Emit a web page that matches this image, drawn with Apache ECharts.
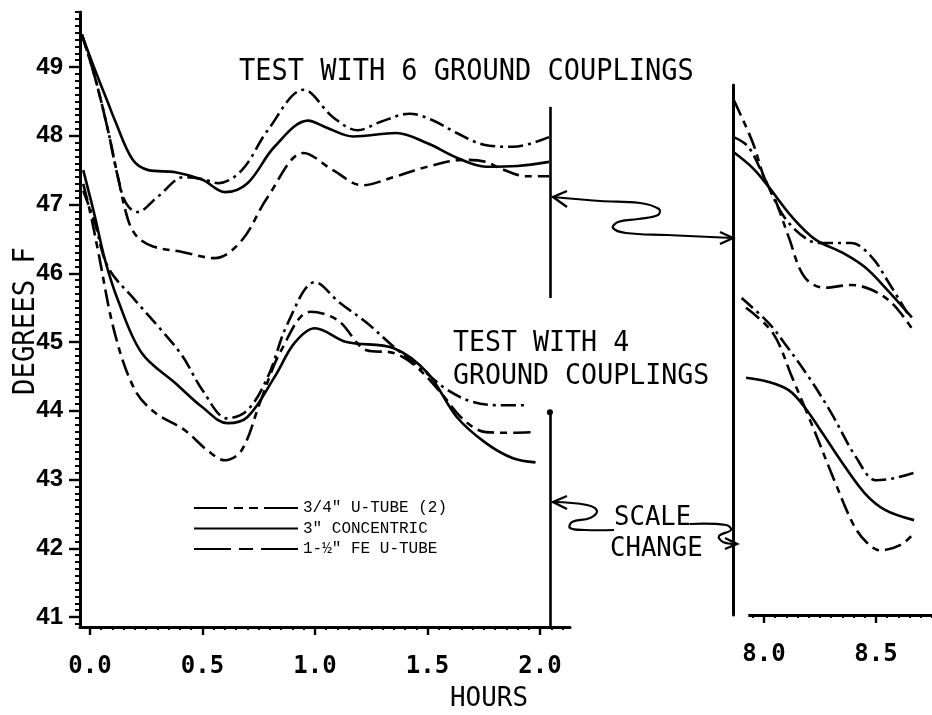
<!DOCTYPE html>
<html>
<head>
<meta charset="utf-8">
<script src="https://cdn.jsdelivr.net/npm/echarts@6/dist/echarts.min.js"></script>
<style>
  html, body { margin: 0; padding: 0; background: #fff; }
  #chart { width: 932px; height: 715px; }
</style>
</head>
<body>
<div id="chart"></div>
<script>
// ---------- tick labels ----------
const degreeTicks = [41, 42, 43, 44, 45, 46, 47, 48, 49];
const hourTicksLeft = [0, 0.5, 1, 1.5, 2];
const hourTicksRight = [8, 8.5];

// ---------- series names ----------
const NAME_UTUBE = '3/4" U-TUBE (2)';
const NAME_CONC = '3" CONCENTRIC';
const NAME_FE = '1-½" FE U-TUBE';

// ---------- test with 6 ground couplings, 0-2 h ----------
const six_utube_early = [[-0.036,49.47],[0.022,48.85],[0.08,48.08],[0.124,47.40],[0.16,47.02],[0.21,46.89],[0.30,47.11],[0.42,47.40],[0.50,47.37],[0.57,47.31],[0.675,47.50],[0.79,48.08],[0.95,48.67],[1.08,48.27],[1.19,48.08],[1.29,48.20],[1.42,48.32],[1.52,48.23],[1.63,48.04],[1.75,47.87],[1.88,47.84],[2.04,47.98]];
const six_conc_early = [[-0.036,49.47],[0.022,48.96],[0.08,48.48],[0.11,48.23],[0.19,47.65],[0.26,47.50],[0.38,47.47],[0.50,47.36],[0.60,47.18],[0.70,47.31],[0.82,47.84],[0.97,48.22],[1.05,48.12],[1.17,47.99],[1.36,48.04],[1.50,47.89],[1.63,47.68],[1.76,47.55],[1.90,47.56],[2.04,47.62]];
const six_fe_early = [[-0.036,49.47],[0.022,48.85],[0.08,48.08],[0.124,47.40],[0.17,46.77],[0.21,46.53],[0.28,46.39],[0.41,46.31],[0.555,46.22],[0.675,46.48],[0.79,47.11],[0.95,47.75],[1.08,47.50],[1.21,47.28],[1.35,47.40],[1.50,47.55],[1.66,47.65],[1.76,47.62],[1.82,47.53],[1.94,47.41],[2.04,47.41]];

// ---------- test with 4 ground couplings, 0-2 h ----------
const four_utube_early = [[-0.03,47.2],[0.02,46.75],[0.08,46.09],[0.2,45.61],[0.31,45.2],[0.41,44.8],[0.50,44.30],[0.61,43.89],[0.70,44.01],[0.79,44.49],[0.88,45.28],[1.0,45.87],[1.11,45.57],[1.23,45.28],[1.35,44.93],[1.48,44.59],[1.59,44.30],[1.70,44.13],[1.82,44.08],[1.94,44.08]];
const four_conc_early = [[-0.03,47.5],[0.02,46.85],[0.067,46.19],[0.124,45.61],[0.23,44.84],[0.38,44.40],[0.50,44.05],[0.61,43.82],[0.70,43.91],[0.82,44.49],[0.91,44.99],[1.0,45.20],[1.14,45.00],[1.35,44.91],[1.50,44.55],[1.63,43.91],[1.76,43.53],[1.88,43.31],[1.98,43.25]];
const four_fe_early = [[-0.03,47.3],[0.0,46.9],[0.035,46.34],[0.11,45.13],[0.2,44.30],[0.29,43.97],[0.42,43.72],[0.52,43.43],[0.60,43.28],[0.675,43.43],[0.76,44.16],[0.85,44.88],[0.98,45.44],[1.10,45.32],[1.23,44.88],[1.35,44.84],[1.45,44.64],[1.56,44.26],[1.66,43.87],[1.76,43.69],[1.88,43.68],[1.98,43.69]];

// ---------- after scale change, 8-8.7 h ----------
const six_utube_late = [[7.865,48.6],[7.93,48.46],[8.0,48.02],[8.09,47.44],[8.20,47.10],[8.27,47.06],[8.39,47.06],[8.48,46.86],[8.55,46.52],[8.64,46.04]];
const six_conc_late = [[7.865,48.38],[7.95,48.15],[8.02,47.88],[8.125,47.44],[8.23,47.11],[8.35,46.92],[8.45,46.71],[8.55,46.38],[8.66,45.98]];
const six_fe_late = [[7.865,49.14],[7.95,48.52],[8.0,48.02],[8.05,47.69],[8.11,47.15],[8.18,46.57],[8.27,46.41],[8.39,46.45],[8.48,46.38],[8.57,46.19],[8.66,45.82]];
const four_utube_late = [[7.90,46.26],[8.02,45.90],[8.09,45.61],[8.20,45.11],[8.30,44.59],[8.41,43.95],[8.50,43.61],[8.58,43.64],[8.67,43.72]];
const four_conc_late = [[7.92,45.10],[8.02,45.04],[8.11,44.92],[8.18,44.68],[8.26,44.30],[8.35,43.86],[8.45,43.42],[8.54,43.18],[8.67,43.03]];
const four_fe_late = [[7.92,46.12],[8.04,45.75],[8.125,45.11],[8.22,44.37],[8.31,43.64],[8.40,42.96],[8.46,42.70],[8.52,42.59],[8.61,42.67],[8.67,42.84]];

// ---------- styling ----------
const INK = '#000';
const DASH_UTUBE = [15, 5, 3, 5];
const DASH_FE = [17, 6, 7, 6];

function minorList(start, end, step, skip) {
  const out = [];
  for (let v = start; v <= end + 1e-9; v += step) {
    const r = Math.round(v * 1000) / 1000;
    if (!skip.some(s => Math.abs(s - r) < 1e-6)) out.push(r);
  }
  return out;
}

function mkLine(name, data, dash, xi, yi) {
  return {
    type: 'line', name: name, data: data,
    xAxisIndex: xi, yAxisIndex: yi,
    smooth: 0.35, symbol: 'none', showSymbol: false, clip: false, silent: true,
    itemStyle: { color: INK },
    lineStyle: { color: INK, width: 2.6, type: dash }
  };
}

const chart = echarts.init(document.getElementById('chart'), null, { renderer: 'canvas' });

const series = [
  mkLine(NAME_UTUBE, six_utube_early, DASH_UTUBE, 0, 0),
  mkLine(NAME_CONC, six_conc_early, 'solid', 0, 0),
  mkLine(NAME_FE, six_fe_early, DASH_FE, 0, 0),
  mkLine(NAME_UTUBE, four_utube_early, DASH_UTUBE, 0, 0),
  mkLine(NAME_CONC, four_conc_early, 'solid', 0, 0),
  mkLine(NAME_FE, four_fe_early, DASH_FE, 0, 0),
  mkLine(NAME_UTUBE, six_utube_late, DASH_UTUBE, 2, 2),
  mkLine(NAME_CONC, six_conc_late, 'solid', 2, 2),
  mkLine(NAME_FE, six_fe_late, DASH_FE, 2, 2),
  mkLine(NAME_UTUBE, four_utube_late, DASH_UTUBE, 2, 2),
  mkLine(NAME_CONC, four_conc_late, 'solid', 2, 2),
  mkLine(NAME_FE, four_fe_late, DASH_FE, 2, 2)
];

// broken vertical line marking the end of the first time window
series[1].markLine = {
  silent: true, symbol: ['none', 'none'], animation: false,
  label: { show: false },
  lineStyle: { color: INK, width: 2.6, type: 'solid' },
  data: [
    [{ coord: [2.044, 48.42] }, { coord: [2.044, 45.64] }],
    [{ coord: [2.044, 43.98], symbol: 'circle', symbolSize: 6 }, { coord: [2.044, 40.855] }]
  ]
};
// time axis line of the late window starts a little right of its temperature axis
series[7].markLine = {
  silent: true, symbol: ['none', 'none'], animation: false,
  label: { show: false },
  lineStyle: { color: INK, width: 3, type: 'solid' },
  data: [
    [{ coord: [7.93, 41.65] }, { coord: [8.75, 41.65] }]
  ]
};

const tickStyle = { color: INK, width: 2.4 };
const R_MIN = 7.8616, R_MAX = 8.75;

const option = {
  backgroundColor: '#fff',
  animation: false,
  grid: [
    { left: 80, top: 12, width: 490, height: 615 },
    { left: 733, top: 85, width: 199, height: 530 }
  ],
  xAxis: [
    { gridIndex: 0, type: 'value', min: -0.0444, max: 2.1333, position: 'bottom',
      axisLine: { show: true, onZero: false, lineStyle: { color: INK, width: 3 } },
      axisTick: { show: true, customValues: hourTicksLeft, length: 8, lineStyle: tickStyle },
      axisLabel: { show: true, customValues: hourTicksLeft, margin: 28, formatter: v => v.toFixed(1),
        fontFamily: 'DejaVu Sans Mono', fontWeight: 'bold', fontSize: 24, color: INK },
      splitLine: { show: false } },
    { gridIndex: 0, type: 'value', min: -0.0444, max: 2.1333, position: 'bottom',
      axisLine: { show: false, onZero: false },
      axisTick: { show: true, customValues: minorList(0.05, 2.1, 0.05, hourTicksLeft), length: 3, lineStyle: { color: INK, width: 2 } },
      axisLabel: { show: false }, splitLine: { show: false } },
    { gridIndex: 1, type: 'value', min: R_MIN, max: R_MAX, position: 'bottom',
      axisLine: { show: false, onZero: false },
      axisTick: { show: true, customValues: hourTicksRight, length: 8, lineStyle: tickStyle },
      axisLabel: { show: true, customValues: hourTicksRight, margin: 28, formatter: v => v.toFixed(1),
        fontFamily: 'DejaVu Sans Mono', fontWeight: 'bold', fontSize: 24, color: INK },
      splitLine: { show: false } },
    { gridIndex: 1, type: 'value', min: R_MIN, max: R_MAX, position: 'bottom',
      axisLine: { show: false, onZero: false },
      axisTick: { show: true, customValues: minorList(7.95, 8.75, 0.05, hourTicksRight), length: 3, lineStyle: { color: INK, width: 2 } },
      axisLabel: { show: false }, splitLine: { show: false } }
  ],
  yAxis: [
    { gridIndex: 0, type: 'value', min: 40.855, max: 49.8, position: 'left',
      axisLine: { show: true, onZero: false, lineStyle: { color: INK, width: 3 } },
      axisTick: { show: true, customValues: degreeTicks, length: 11, lineStyle: tickStyle },
      axisLabel: { show: true, customValues: degreeTicks, margin: 17,
        fontFamily: 'Liberation Sans', fontWeight: 'bold', fontSize: 24, color: INK },
      splitLine: { show: false } },
    { gridIndex: 0, type: 'value', min: 40.855, max: 49.8, position: 'left',
      axisLine: { show: false, onZero: false },
      axisTick: { show: true, customValues: minorList(40.9, 49.8, 0.1, degreeTicks), length: 5, lineStyle: { color: INK, width: 2 } },
      axisLabel: { show: false }, splitLine: { show: false } },
    { gridIndex: 1, type: 'value', min: 41.65, max: 49.359, position: 'left',
      axisLine: { show: true, onZero: false, lineStyle: { color: INK, width: 3 } },
      axisTick: { show: false }, axisLabel: { show: false }, splitLine: { show: false } }
  ],
  legend: {
    orient: 'vertical', left: 193, top: 500, padding: 0,
    itemWidth: 104, itemHeight: 14, itemGap: 4.5,
    selectedMode: false,
    itemStyle: { opacity: 0 },
    textStyle: { fontFamily: 'Liberation Mono', fontSize: 16, color: INK },
    data: [
      { name: NAME_UTUBE, lineStyle: { type: [33, 7, 9, 6, 9, 6, 40] } },
      { name: NAME_CONC },
      { name: NAME_FE, lineStyle: { type: [37, 8, 14, 8, 40] } }
    ]
  },
  graphic: [
    { type: 'text', x: 239, y: 72, scaleX: 0.87, silent: true,
      style: { text: 'TEST WITH 6 GROUND COUPLINGS', fill: INK, font: '31px "DejaVu Sans Mono"',
        align: 'left', verticalAlign: 'middle', textAlign: 'left', textVerticalAlign: 'middle' } },
    { type: 'text', x: 453, y: 344, scaleX: 0.95, silent: true,
      style: { text: 'TEST WITH 4', fill: INK, font: '28px "DejaVu Sans Mono"',
        align: 'left', verticalAlign: 'middle', textAlign: 'left', textVerticalAlign: 'middle' } },
    { type: 'text', x: 453, y: 377, scaleX: 0.95, silent: true,
      style: { text: 'GROUND COUPLINGS', fill: INK, font: '28px "DejaVu Sans Mono"',
        align: 'left', verticalAlign: 'middle', textAlign: 'left', textVerticalAlign: 'middle' } },
    { type: 'text', x: 614, y: 518, scaleX: 0.95, silent: true,
      style: { text: 'SCALE', fill: INK, font: '27px "DejaVu Sans Mono"',
        align: 'left', verticalAlign: 'middle', textAlign: 'left', textVerticalAlign: 'middle' } },
    { type: 'text', x: 610, y: 549, scaleX: 0.95, silent: true,
      style: { text: 'CHANGE', fill: INK, font: '27px "DejaVu Sans Mono"',
        align: 'left', verticalAlign: 'middle', textAlign: 'left', textVerticalAlign: 'middle' } },
    { type: 'text', x: 489, y: 699, scaleX: 0.96, silent: true,
      style: { text: 'HOURS', fill: INK, font: '27px "DejaVu Sans Mono"',
        align: 'center', verticalAlign: 'middle', textAlign: 'center', textVerticalAlign: 'middle' } },
    { type: 'text', x: 26, y: 321, rotation: Math.PI / 2, scaleX: 0.91, silent: true,
      style: { text: 'DEGREES F', fill: INK, font: '30px "DejaVu Sans Mono"',
        align: 'center', verticalAlign: 'middle', textAlign: 'center', textVerticalAlign: 'middle' } },
    // arrow: upper pointer between panels
    { type: 'polyline', silent: true, shape: { smooth: 0.4, points: [[553,197],[600,201],[640,203],[659,209],[658,215],[638,219],[618,222],[613,228],[626,233],[667,235],[733,238]] },
      style: { stroke: INK, lineWidth: 2.2, fill: null } },
    { type: 'polyline', silent: true, shape: { points: [[567,191],[553,197],[567,207]] }, style: { stroke: INK, lineWidth: 2.4, fill: null } },
    { type: 'polyline', silent: true, shape: { points: [[720,232],[733,238],[720,244]] }, style: { stroke: INK, lineWidth: 2.4, fill: null } },
    // arrow: lower pointer (scale change)
    { type: 'polyline', silent: true, shape: { smooth: 0.4, points: [[553,502],[587,505],[597,511],[590,518],[572,522],[570,528],[585,530],[614,530]] },
      style: { stroke: INK, lineWidth: 2.2, fill: null } },
    { type: 'polyline', silent: true, shape: { smooth: 0.4, points: [[690,524],[726,525],[731,530],[719,536],[723,542],[737,544]] },
      style: { stroke: INK, lineWidth: 2.2, fill: null } },
    { type: 'polyline', silent: true, shape: { points: [[567,496],[553,502],[567,509]] }, style: { stroke: INK, lineWidth: 2.4, fill: null } },
    { type: 'polyline', silent: true, shape: { points: [[725,538],[737,544],[725,549]] }, style: { stroke: INK, lineWidth: 2.4, fill: null } }
  ],
  series: series
};

chart.setOption(option);
</script>
</body>
</html>
